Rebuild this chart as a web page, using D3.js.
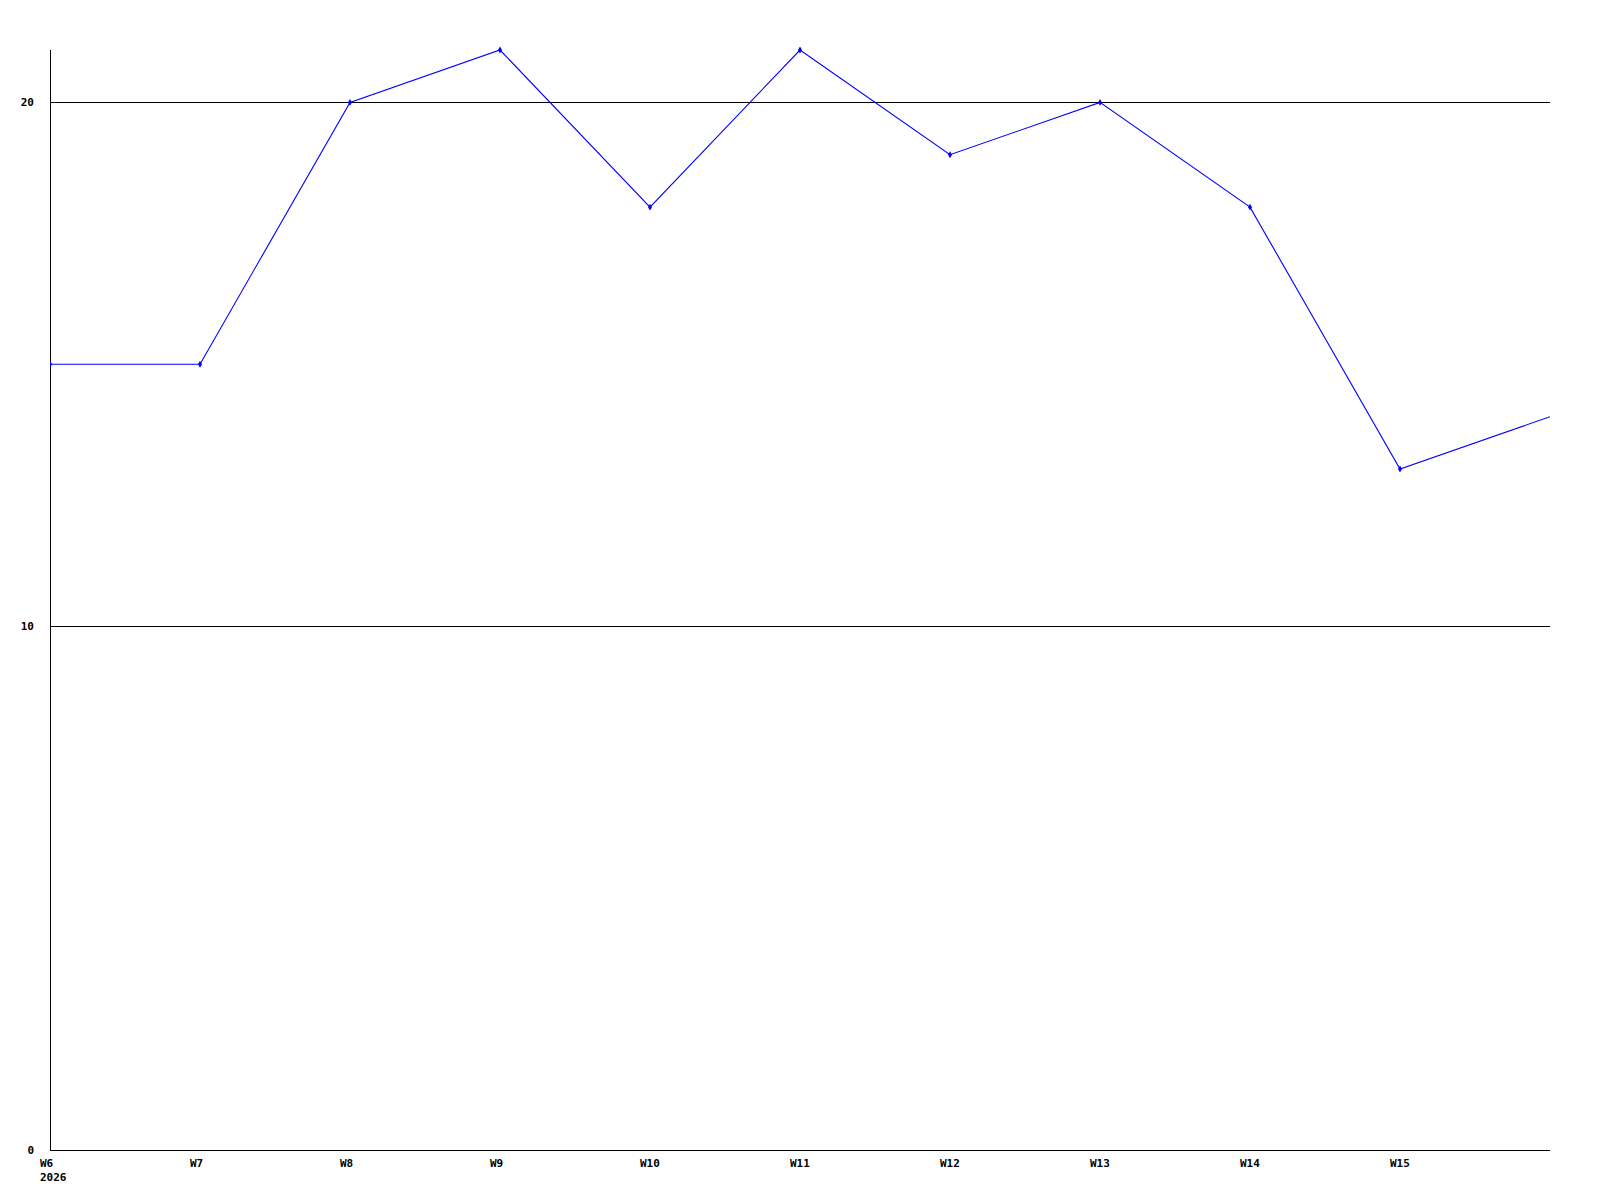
<!DOCTYPE html>
<html><head><meta charset="utf-8">
<script src="https://cdn.jsdelivr.net/npm/d3@7"></script>
<style>html,body{margin:0;padding:0;background:#fff;}</style>
</head><body>
<script>
const weeks = ["W6","W7","W8","W9","W10","W11","W12","W13","W14","W15","W16"];
const values = [15,15,20,21,18,21,19,20,18,13,14];
const yTicks = [0,10,20];
const yearLabel = "2026";

const W = 1600, H = 1200;
const m = {left:50, right:50, top:50, bottom:50};
const svg = d3.select("body").append("svg").attr("width",W).attr("height",H);

const x = d3.scalePoint().domain(weeks).range([m.left, W - m.right]);
const y = d3.scaleLinear().domain([0,21]).range([H - m.bottom, m.top]);

const font = "'DejaVu Sans Mono', monospace";

svg.append("defs").append("clipPath").attr("id","clip")
  .append("rect").attr("x",m.left).attr("y",m.top-5).attr("width",W-m.left-m.right).attr("height",H-m.top-m.bottom+5);

// grid lines
svg.append("g").selectAll("line").data(yTicks.filter(d=>d>0)).join("line")
  .attr("x1",m.left).attr("x2",W-m.right)
  .attr("y1",d=>Math.round(y(d))+0.5).attr("y2",d=>Math.round(y(d))+0.5)
  .attr("stroke","#000").attr("stroke-width",1);

// axes
svg.append("line").attr("x1",m.left+0.5).attr("x2",m.left+0.5).attr("y1",m.top).attr("y2",H-m.bottom+0.5)
  .attr("stroke","#000");
svg.append("line").attr("x1",m.left).attr("x2",W-m.right).attr("y1",H-m.bottom+0.5).attr("y2",H-m.bottom+0.5)
  .attr("stroke","#000");

// y labels
svg.append("g").selectAll("text").data(yTicks).join("text")
  .attr("x",34).attr("y",d=>y(d)).attr("dy","0.35em").attr("text-anchor","end")
  .attr("font-family",font).attr("font-weight","bold").attr("font-size",11)
  .text(d=>d);

// x labels
svg.append("g").selectAll("text").data(weeks.slice(0,-1)).join("text")
  .attr("x",d=>x(d)-10).attr("y",1167)
  .attr("font-family",font).attr("font-weight","bold").attr("font-size",11)
  .text(d=>d);
svg.append("text").attr("x",x(weeks[0])-10).attr("y",1181)
  .attr("font-family",font).attr("font-weight","bold").attr("font-size",11)
  .text(yearLabel);

const data = weeks.map((w,i)=>({w, v:values[i]}));
const g = svg.append("g").attr("clip-path","url(#clip)");
g.append("path").datum(data)
  .attr("d", d3.line().x(d=>x(d.w)).y(d=>y(d.v)))
  .attr("fill","none").attr("stroke","#0000ff").attr("stroke-width",1.1);

g.selectAll("path.mk").data(data.slice(0,-1)).join("path").attr("class","mk")
  .attr("transform",d=>`translate(${x(d.w)},${y(d.v)})`)
  .attr("d", d3.symbol().type(d3.symbolDiamond).size(14))
  .attr("fill","#0000ff");
</script>
</body></html>
